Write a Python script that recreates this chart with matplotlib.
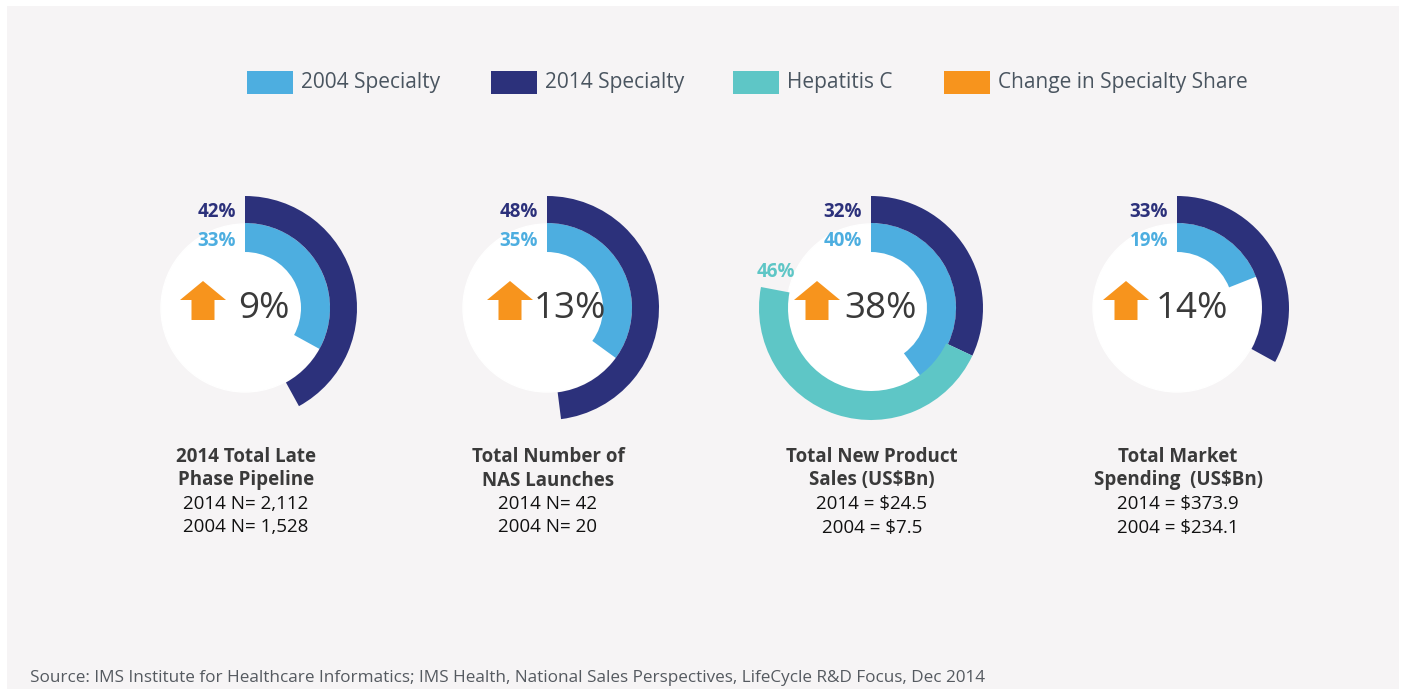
import matplotlib.pyplot as plt
from matplotlib.patches import Wedge, Circle, Rectangle, FancyArrow

plt.rcParams['font.family'] = ['Open Sans', 'DejaVu Sans']

# data
titles = [['2014 Total Late', 'Phase Pipeline'], ['Total Number of', 'NAS Launches'],
          ['Total New Product', 'Sales (US$Bn)'], ['Total Market', 'Spending  (US$Bn)']]
details = [['2014 N= 2,112', '2004 N= 1,528'], ['2014 N= 42', '2004 N= 20'],
           ['2014 = $24.5', '2004 = $7.5'], ['2014 = $373.9', '2004 = $234.1']]
share_2004 = [33, 35, 40, 19]
share_2014 = [42, 48, 32, 33]
hep_c = [0, 0, 46, 0]
change = [9, 13, 38, 14]
legend_labels = ['2004 Specialty', '2014 Specialty', 'Hepatitis C', 'Change in Specialty Share']

# colours
C_2004 = '#4daee0'
C_2014 = '#2c317b'
C_HEP = '#5ec6c6'
C_UP = '#f7941d'
BG = '#f6f4f5'

# layout (pixels)
centers_x = [245, 547, 871, 1177]
cy = 308
arrow_dx = [-42, -37, -54, -51]
text_dx = [-7, -13, -27, -21]
line_y = [457, 480.5, 504, 527.5]


def draw_ring(ax, cx, idx):
    ax.add_patch(Circle((cx, cy), 84, color='white', zorder=1))
    # y axis is inverted: -90 is 12 o'clock, increasing angle runs clockwise
    a0 = -90
    a_light = a0 + 360 * share_2004[idx] / 100
    ax.add_patch(Wedge((cx, cy), 85, a0, a_light, width=29, color=C_2004, lw=0, zorder=2))
    a_dark = a0 + 360 * share_2014[idx] / 100
    ax.add_patch(Wedge((cx, cy), 112, a0, a_dark, width=27, color=C_2014, lw=0, zorder=2))
    if hep_c[idx]:
        a_hep = a_dark + 360 * hep_c[idx] / 100
        ax.add_patch(Wedge((cx, cy), 112, a_dark, a_hep, width=29, color=C_HEP, lw=0, zorder=2))
        ax.text(cx - 76, cy - 36, f'{hep_c[idx]}%', color=C_HEP, fontsize=13.5,
                fontweight='bold', ha='right', va='center', zorder=3)

    ax.text(cx - 9, cy - 96, f'{share_2014[idx]}%', color=C_2014, fontsize=13.5,
            fontweight='bold', ha='right', va='center', zorder=3)
    ax.text(cx - 9, cy - 67, f'{share_2004[idx]}%', color=C_2004, fontsize=13.5,
            fontweight='bold', ha='right', va='center', zorder=3)

    # up arrow + change value
    ax.add_patch(FancyArrow(cx + arrow_dx[idx], cy + 12, 0, -39, width=23, head_width=46,
                            head_length=19, length_includes_head=True, color=C_UP, lw=0, zorder=3))
    ax.text(cx + text_dx[idx], cy + 10, f'{change[idx]}%', color='#3a3a3a', fontsize=26.5,
            ha='left', va='baseline', zorder=3)

    for y, line in zip(line_y[:2], titles[idx]):
        ax.text(cx + 1, y, line, color='#3a3a3a', fontsize=13.5, fontweight='bold',
                ha='center', va='center')
    for y, line in zip(line_y[2:], details[idx]):
        ax.text(cx + 1, y, line, color='#111111', fontsize=13.5, ha='center', va='center')


def main():
    fig = plt.figure(figsize=(14.03, 6.89), dpi=100, facecolor='white')
    ax = fig.add_axes([0, 0, 1, 1])
    ax.set_xlim(0, 1403)
    ax.set_ylim(689, 0)
    ax.axis('off')

    ax.add_patch(Rectangle((7, 6), 1392, 690, color=BG, lw=0, zorder=0))

    # legend
    leg_x = [247, 491, 733, 944]
    for x, lab, col in zip(leg_x, legend_labels, [C_2004, C_2014, C_HEP, C_UP]):
        ax.add_patch(Rectangle((x, 71), 46, 23, color=col, lw=0))
        ax.text(x + 54, 82.5, lab, color='#4a5560', fontsize=15, ha='left', va='center')

    for i, cx in enumerate(centers_x):
        draw_ring(ax, cx, i)

    ax.text(30, 678, 'Source: IMS Institute for Healthcare Informatics; IMS Health, National Sales '
            'Perspectives, LifeCycle R&D Focus, Dec 2014', color='#555a60', fontsize=12.3,
            ha='left', va='center')

    fig.savefig('out.png', dpi=100, facecolor='white')


if __name__ == '__main__':
    main()
